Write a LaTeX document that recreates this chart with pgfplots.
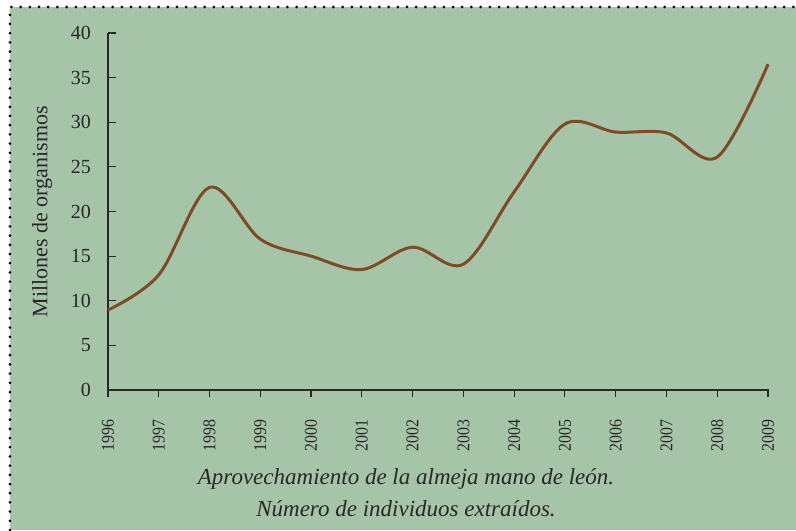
\documentclass[border=0pt]{standalone}
\usepackage{pgfplots}
\pgfplotsset{compat=1.18}
\usepackage{fontspec}
\setmainfont{Liberation Serif}
\newfontfamily\narrowserif[FakeStretch=0.88]{Liberation Serif}
\definecolor{bgg}{RGB}{166,196,167}
\definecolor{brn}{RGB}{125,75,37}
\definecolor{txt}{RGB}{40,40,40}
\begin{document}
\begin{tikzpicture}
\useasboundingbox (-54pt,-70pt) rectangle (344pt,195pt);
\fill[white] (-54pt,-70pt) rectangle (344pt,195pt);
\fill[bgg] (-49pt,-70pt) rectangle (344pt,191.5pt);
\draw[black, line width=1.5pt, line cap=round, dash pattern=on 0pt off 4.6pt] (-49pt,-70pt) -- (-49pt,191.5pt) -- (344pt,191.5pt);
\begin{axis}[
  scale only axis,
  width=330pt, height=178.5pt,
  at={(0pt,0pt)}, anchor=origin,
  xmin=1996, xmax=2009, ymin=0, ymax=40,
  axis lines*=left,
  axis line style={txt, line width=0.7pt},
  tick align=inside,
  major tick length=4pt,
  tick style={txt, line width=0.6pt},
  x tick style={yshift=-3.5pt},
  xtick={1996,...,2009},
  ytick={0,5,...,40},
  xtick pos=bottom, ytick pos=left,
  /pgf/number format/assume math mode=true,
  xticklabel={\pgfmathprintnumber[1000 sep={}]{\tick}},
  xticklabel style={rotate=90, anchor=east, font=\narrowserif\fontsize{9}{10}\selectfont, text=txt, xshift=-11.5pt},
  yticklabel style={font=\fontsize{10}{11}\selectfont, text=txt, xshift=-5pt},
  ylabel={Millones de organismos},
  ylabel style={at={(axis description cs:-0.1,0.5)}, anchor=center, rotate=0, font=\fontsize{11}{12}\selectfont, text=txt},
  clip=false,
]
\addplot[brn, line width=1.5pt, smooth, tension=0.55] coordinates {
(1996,8.96) (1997,12.9) (1998,22.7) (1999,16.9) (2000,15.0) (2001,13.5)
(2002,16.0) (2003,14.1) (2004,22.2) (2005,29.8) (2006,28.9) (2007,28.8)
(2008,26.1) (2009,36.5)
};
\end{axis}
\node[font=\itshape\fontsize{11.5}{16}\selectfont, text=txt, align=center] at (149pt,-51.5pt) {Aprovechamiento de la almeja mano de león.\\Número de individuos extraídos.};
\end{tikzpicture}
\end{document}
